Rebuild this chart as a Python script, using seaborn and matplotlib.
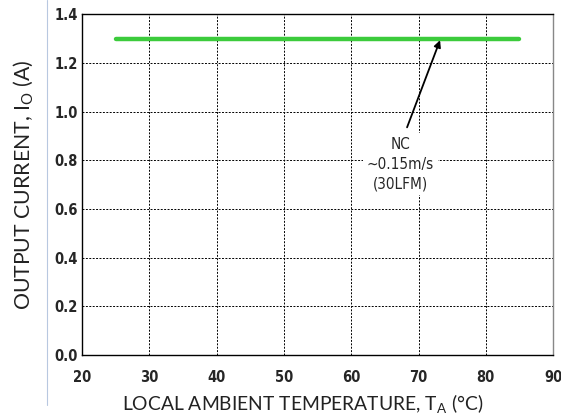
import numpy as np
import pandas as pd
import matplotlib.pyplot as plt
import matplotlib.lines as mlines
import seaborn as sns

temperature = [25, 85]
current = [1.3, 1.3]
x_ticks = [20, 30, 40, 50, 60, 70, 80, 90]
y_ticks = [0.0, 0.2, 0.4, 0.6, 0.8, 1.0, 1.2, 1.4]

df = pd.DataFrame({"TA": temperature, "IO": current})

sns.set_theme(style="white")
plt.rcParams["font.family"] = ["Lato", "DejaVu Sans"]

fig = plt.figure(figsize=(5.61, 4.17), dpi=100)
ax = fig.add_axes([0.146, 0.149, 0.840, 0.817])

sns.lineplot(data=df, x="TA", y="IO", ax=ax, color="#3ccb3c", linewidth=3.2,
             solid_capstyle="round")

ax.set_xlim(20, 90)
ax.set_ylim(0, 1.4)
ax.set_xticks(x_ticks)
ax.set_yticks(y_ticks)
ax.set_xticklabels([str(t) for t in x_ticks])
ax.set_yticklabels([f"{t:.1f}" for t in y_ticks])
for lab in ax.get_xticklabels() + ax.get_yticklabels():
    lab.set_family("DejaVu Sans")
    lab.set_stretch("condensed")
    lab.set_fontweight("bold")
    lab.set_fontsize(10.5)
ax.tick_params(axis="x", pad=11, length=0)
ax.tick_params(axis="y", pad=3, length=0)

ax.grid(True, color="black", linestyle=(0, (2, 1.5)), linewidth=0.7)
for s in ax.spines.values():
    s.set_color("black")
    s.set_linewidth(1.0)
ax.spines["right"].set_color("#888888")

ax.set_xlabel("LOCAL AMBIENT TEMPERATURE, T$_\\mathregular{A}$ (°C)",
              fontsize=13.9, color="#222222")
ax.xaxis.set_label_coords(0.469, -0.11)
ax.set_ylabel("OUTPUT CURRENT, I$_\\mathregular{O}$ (A)",
              fontsize=15.3, color="#222222", labelpad=13)

# label text and a separate arrow
ax.text(67.3, 0.784, "NC\n~0.15m/s\n(30LFM)", ha="center", va="center",
        fontsize=11, family="DejaVu Sans", stretch="condensed",
        linespacing=1.4,
        bbox=dict(boxstyle="square,pad=0.25", fc="white", ec="none"))
ax.annotate("", xy=(73.2, 1.293), xytext=(68.3, 0.935),
            arrowprops=dict(arrowstyle="-|>", color="black", lw=1.3,
                            mutation_scale=10, shrinkA=0, shrinkB=0))

fig.add_artist(mlines.Line2D([47 / 561, 47 / 561], [12 / 417, 1.0],
                             color="#b8c8e0", linewidth=0.8))

fig.savefig("out.png", dpi=100)
